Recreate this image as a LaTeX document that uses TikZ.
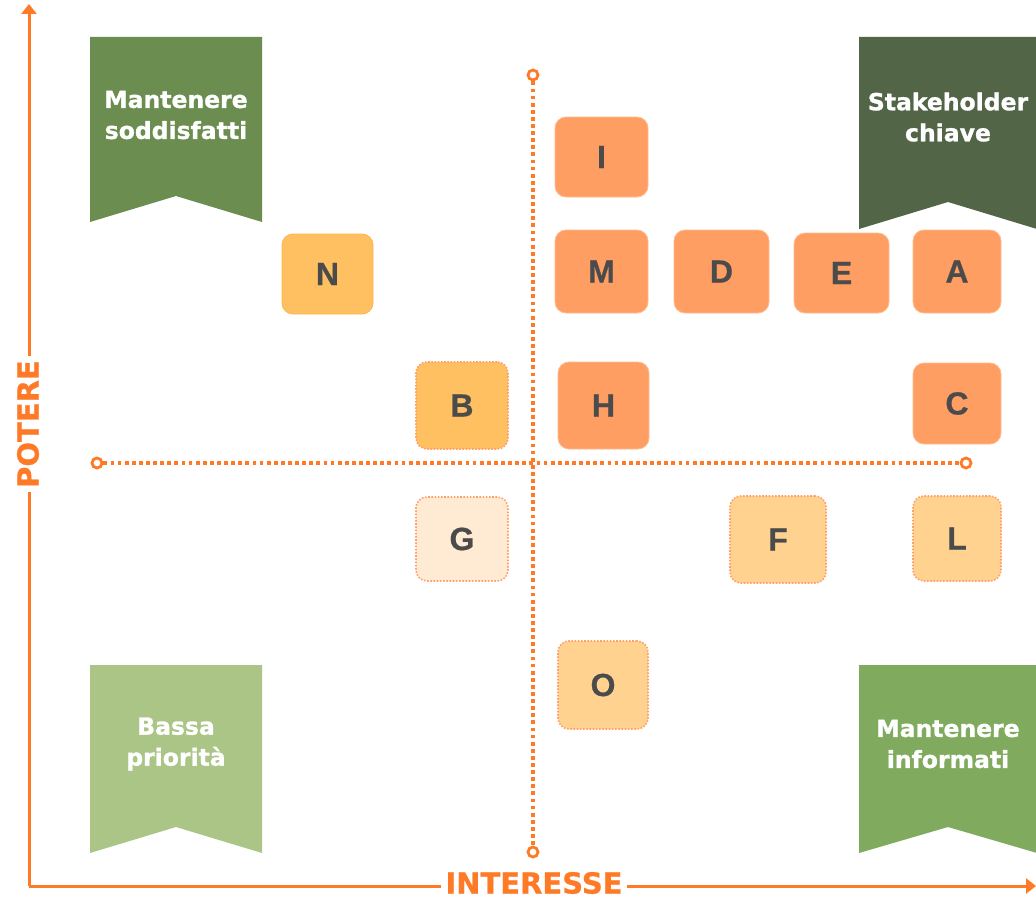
\documentclass[tikz,border=0pt]{standalone}
\usepackage{fontspec}
\setmainfont{Liberation Sans}
\newfontfamily\djb[FakeBold=1.2]{DejaVu Sans Bold}
\newfontfamily\djax[FakeBold=0.8]{DejaVu Sans Bold}
\newfontfamily\lsb[FakeBold=0.6]{Liberation Sans Bold}
\usetikzlibrary{arrows.meta}
\definecolor{axor}{HTML}{FF7A26}
\definecolor{boxor}{HTML}{FF9E62}
\definecolor{boxyel}{HTML}{FFC062}
\definecolor{boxlt}{HTML}{FFD28F}
\definecolor{boxpale}{HTML}{FFEBD4}
\definecolor{bordor}{HTML}{FFA06A}
\definecolor{bantl}{HTML}{6B8E50}
\definecolor{bantr}{HTML}{536547}
\definecolor{banbl}{HTML}{AAC586}
\definecolor{banbr}{HTML}{80AB5F}
\definecolor{letter}{HTML}{4B4B4B}
\tikzset{
  sbox/.style={rounded corners=11pt, inner sep=0pt, text=letter,
    font=\lsb\fontsize{32}{32}\selectfont, draw=boxor!70!white, line width=0.8pt},
  dbox/.style={sbox, draw=bordor, line width=1.6pt, dash pattern=on 1.6pt off 1.6pt},
  bantext/.style={text=white, align=center, font=\djb\fontsize{23.5}{31}\selectfont},
  axlabel/.style={text=axor, font=\djax\fontsize{29}{29}\selectfont, fill=white, inner xsep=4pt, inner ysep=0pt},
  axline/.style={draw=axor, line width=3pt},
  dotline/.style={draw=axor, line width=3.8pt, dash pattern=on 3.8pt off 3.3pt},
  endcirc/.style={circle, draw=axor, fill=white, line width=2.8pt, minimum size=10pt, inner sep=0pt},
}
\newcommand{\banner}[6]{% x1 x2 ytop ybot ynotch colour
  \fill[#6] (#1,#3) -- (#2,#3) -- (#2,#4) -- ({(#1+#2)/2},#5) -- (#1,#4) -- cycle;}
\begin{document}
\begin{tikzpicture}[x=1pt,y=-1pt]
\useasboundingbox (0,0) rectangle (1036,899);
\fill[white] (0,0) rectangle (1036,899);

% banners
\banner{90}{262}{37}{222}{196}{bantl}
\banner{859}{1037}{37}{229}{202}{bantr}
\banner{90}{262}{665}{853}{827}{banbl}
\banner{859}{1037}{665}{853}{827}{banbr}
\node[bantext] (tl) at (176,115) {Mantenere\\soddisfatti};
\node[bantext] (tr) at (948,117) {Stakeholder\\chiave};
\node[bantext] (bl) at (176,744) {Bassa\\priorità};
\node[bantext] (br) at (948,744) {Mantenere\\informati};

% dotted quadrant lines
\node[endcirc] (vt) at (533,75) {};
\node[endcirc] (vb) at (533,852) {};
\node[endcirc] (hl) at (97,463) {};
\node[endcirc] (hr) at (966,463) {};
\draw[dotline] (vt) -- (vb);
\draw[dotline] (hl) -- (hr);

% axes
\coordinate (orig) at (29,886);
\coordinate (ytop) at (29,4);
\coordinate (xend) at (1036,886);
\draw[axline, -{Triangle[length=10pt,width=15pt]}] (orig) -- (ytop);
\draw[axline, -{Triangle[length=10pt,width=15pt]}] (orig) -- (xend);
\node[axlabel, rotate=90] (pot) at (28,424) {POTERE};
\node[axlabel] (int) at (534,883) {INTERESSE};

% stakeholder boxes
\node[sbox, fill=boxor, minimum width=93pt, minimum height=80pt] (I) at (601.5,157) {I};
\node[sbox, fill=boxor, minimum width=93pt, minimum height=83pt] (M) at (601.5,271.5) {M};
\node[sbox, fill=boxor, minimum width=95pt, minimum height=83pt] (D) at (721.5,271.5) {D};
\node[sbox, fill=boxor, minimum width=95pt, minimum height=80pt] (E) at (841.5,273) {E};
\node[sbox, fill=boxor, minimum width=88pt, minimum height=83pt] (A) at (957,271.5) {A};
\node[sbox, fill=boxyel, draw=boxyel!80!orange, minimum width=91pt, minimum height=80pt] (N) at (327.5,274) {N};
\node[dbox, fill=boxyel, minimum width=92pt, minimum height=87pt] (B) at (462,405.5) {B};
\node[sbox, fill=boxor, minimum width=91pt, minimum height=87pt] (H) at (603.5,405.5) {H};
\node[sbox, fill=boxor, minimum width=88pt, minimum height=81pt] (C) at (957,403.5) {C};
\node[dbox, fill=boxpale, minimum width=92pt, minimum height=84pt] (G) at (462,539) {G};
\node[dbox, fill=boxlt, minimum width=96pt, minimum height=87pt] (F) at (778,539.5) {F};
\node[dbox, fill=boxlt, minimum width=88pt, minimum height=85pt] (L) at (957,538.5) {L};
\node[dbox, fill=boxlt, minimum width=90pt, minimum height=88pt] (O) at (603,685) {O};
\end{tikzpicture}
\end{document}
